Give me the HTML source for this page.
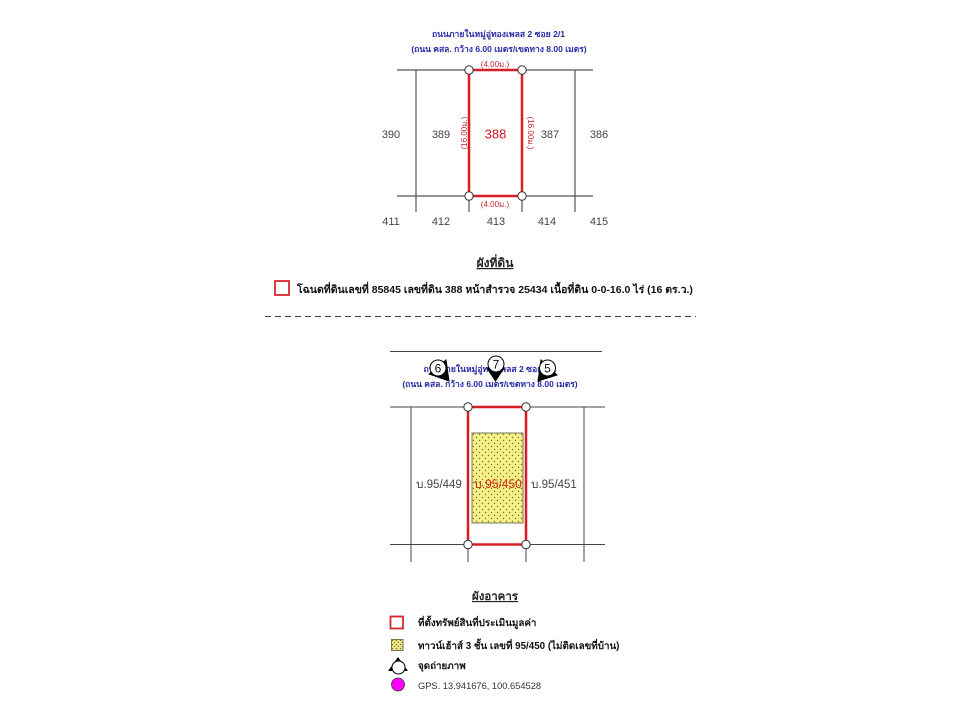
<!DOCTYPE html>
<html><head><meta charset="utf-8"><style>
html,body{margin:0;padding:0;background:#fff}
svg{display:block}
text{font-family:"Liberation Sans","Noto Sans CJK SC",sans-serif}
</style></head><body>
<svg width="960" height="720" viewBox="0 0 960 720" xmlns="http://www.w3.org/2000/svg">
<defs>
<pattern id="d" width="6" height="6" patternUnits="userSpaceOnUse" x="472" y="433">
<rect width="6" height="6" fill="#f6f184"/>
<circle cx="1.500" cy="1.500" r=".7" fill="#6e6e40"/><circle cx="4.500" cy="4.500" r=".7" fill="#6e6e40"/>
</pattern>
<pattern id="d2" width="4" height="4" patternUnits="userSpaceOnUse" x="391" y="639">
<rect width="4" height="4" fill="#f6f184"/>
<circle cx="1.500" cy="1.500" r=".8" fill="#66663a"/><circle cx="3.500" cy="3.500" r=".8" fill="#66663a"/>
</pattern>
</defs>

<!-- top plan -->
<text x="498.500" y="37" font-size="8.600" font-weight="bold" fill="#2a2aa5" text-anchor="middle">ถนนภายในหมู่อู่ทองเพลส 2 ซอย 2/1</text>
<text x="499" y="52" font-size="8.500" font-weight="bold" fill="#2a2aa5" text-anchor="middle">(ถนน คสล. กว้าง 6.00 เมตร/เขตทาง 8.00 เมตร)</text>
<g stroke="#555" stroke-width="1.200" fill="none">
<path d="M397 70H593M397 196H593M416 70V212M575 70V212M469 196V212M522 196V212"/>
</g>
<rect x="469" y="70" width="53" height="126" fill="none" stroke="#d81e24" stroke-width="2.500"/>
<g fill="#fff" stroke="#333" stroke-width="1">
<circle cx="469" cy="70" r="4.200"/><circle cx="522" cy="70" r="4.200"/><circle cx="469" cy="196" r="4.200"/><circle cx="522" cy="196" r="4.200"/>
</g>
<text x="495" y="67" font-size="8" fill="#c5282d" text-anchor="middle">(4.00ม.)</text>
<text x="495" y="207" font-size="8" fill="#c5282d" text-anchor="middle">(4.00ม.)</text>
<text transform="translate(467,133) rotate(-90)" font-size="8" fill="#c5282d" text-anchor="middle">(16.00ม.)</text>
<text transform="translate(528,133) rotate(90)" font-size="8" fill="#c5282d" text-anchor="middle">(16.00ม.)</text>
<g font-size="11" fill="#444" text-anchor="middle">
<text x="391" y="138">390</text><text x="441" y="138">389</text><text x="550" y="138">387</text><text x="599" y="138">386</text>
<text x="391" y="225">411</text><text x="441" y="225">412</text><text x="496" y="225">413</text><text x="547" y="225">414</text><text x="599" y="225">415</text>
</g>
<text x="495.500" y="138.500" font-size="13" fill="#d0161c" text-anchor="middle">388</text>

<text x="495" y="267" font-size="12" font-weight="bold" fill="#222" text-anchor="middle" text-decoration="underline">ผังที่ดิน</text>
<rect x="275" y="281" width="14" height="14" fill="none" stroke="#d8282e" stroke-width="1.800"/>
<text x="297" y="293" font-size="10.500" font-weight="bold" fill="#111">โฉนดที่ดินเลขที่ 85845 เลขที่ดิน 388 หน้าสำรวจ 25434 เนื้อที่ดิน 0-0-16.0 ไร่ (16 ตร.ว.)</text>
<line x1="265" y1="316.500" x2="696" y2="316.500" stroke="#444" stroke-width="1" stroke-dasharray="6 4"/>

<!-- lower plan -->
<line x1="390" y1="351.500" x2="602" y2="351.500" stroke="#444" stroke-width="1"/>
<text x="490" y="372" font-size="8.600" font-weight="bold" fill="#2a2aa5" text-anchor="middle">ถนนภายในหมู่อู่ทองเพลส 2 ซอย 2/1</text>
<text x="490" y="387" font-size="8.500" font-weight="bold" fill="#2a2aa5" text-anchor="middle">(ถนน คสล. กว้าง 6.00 เมตร/เขตทาง 8.00 เมตร)</text>
<g stroke="#444" stroke-width="1" fill="none">
<path d="M390 407H605M390 544.500H605M411 407V562M584 407V562M468 544V562M526 544V562"/>
</g>
<rect x="472" y="433" width="51" height="90" fill="url(#d)" stroke="#55553a" stroke-width=".8"/>
<rect x="468" y="407" width="58" height="137.500" fill="none" stroke="#d81e24" stroke-width="2.500"/>
<g fill="#fff" stroke="#333" stroke-width="1">
<circle cx="468" cy="407" r="4.200"/><circle cx="526" cy="407" r="4.200"/><circle cx="468" cy="544.500" r="4.200"/><circle cx="526" cy="544.500" r="4.200"/>
</g>
<g font-size="11.500" fill="#444" text-anchor="middle">
<text x="439" y="488">บ.95/449</text><text x="554" y="488">บ.95/451</text>
</g>
<text x="498" y="488" font-size="12" fill="#d0261c" text-anchor="middle">บ.95/450</text>

<!-- markers -->
<g stroke="#000" stroke-width="1">
<path d="M429 374L446 360L449 381Z" fill="#000"/>
<circle cx="438" cy="368" r="8" fill="#fff"/>
<path d="M487 368L504 368L495.500 381Z" fill="#000"/>
<circle cx="496" cy="364" r="8" fill="#fff"/>
<path d="M541 360L557 375L538 381Z" fill="#000"/>
<circle cx="547.500" cy="368" r="8" fill="#fff"/>
</g>
<g font-size="12" fill="#111" text-anchor="middle">
<text x="438" y="372.500">6</text><text x="496" y="368.500">7</text><text x="547.500" y="372.500">5</text>
</g>

<!-- legend -->
<text x="495" y="600" font-size="11.500" font-weight="bold" fill="#222" text-anchor="middle" text-decoration="underline">ผังอาคาร</text>
<rect x="390.500" y="616.500" width="12.500" height="12" fill="none" stroke="#d8282e" stroke-width="1.800"/>
<text x="418" y="626" font-size="9.800" font-weight="bold" fill="#111">ที่ตั้งทรัพย์สินที่ประเมินมูลค่า</text>
<rect x="391.500" y="639.500" width="11.500" height="11" fill="url(#d2)" stroke="#77774a" stroke-width="1"/>
<text x="418" y="649" font-size="9.800" font-weight="bold" fill="#111">ทาวน์เฮ้าส์ 3 ชั้น เลขที่ 95/450 (ไม่ติดเลขที่บ้าน)</text>
<path d="M398 657L388 671H408Z" fill="#000"/>
<circle cx="398.500" cy="667.500" r="6.500" fill="#fff" stroke="#000" stroke-width="1"/>
<text x="418" y="669" font-size="9.800" font-weight="bold" fill="#111">จุดถ่ายภาพ</text>
<circle cx="398" cy="684.500" r="6.500" fill="#f0f" stroke="#333" stroke-width=".8"/>
<text x="418" y="689" font-size="9.300" fill="#333">GPS. 13.941676, 100.654528</text>
</svg>
</body></html>
